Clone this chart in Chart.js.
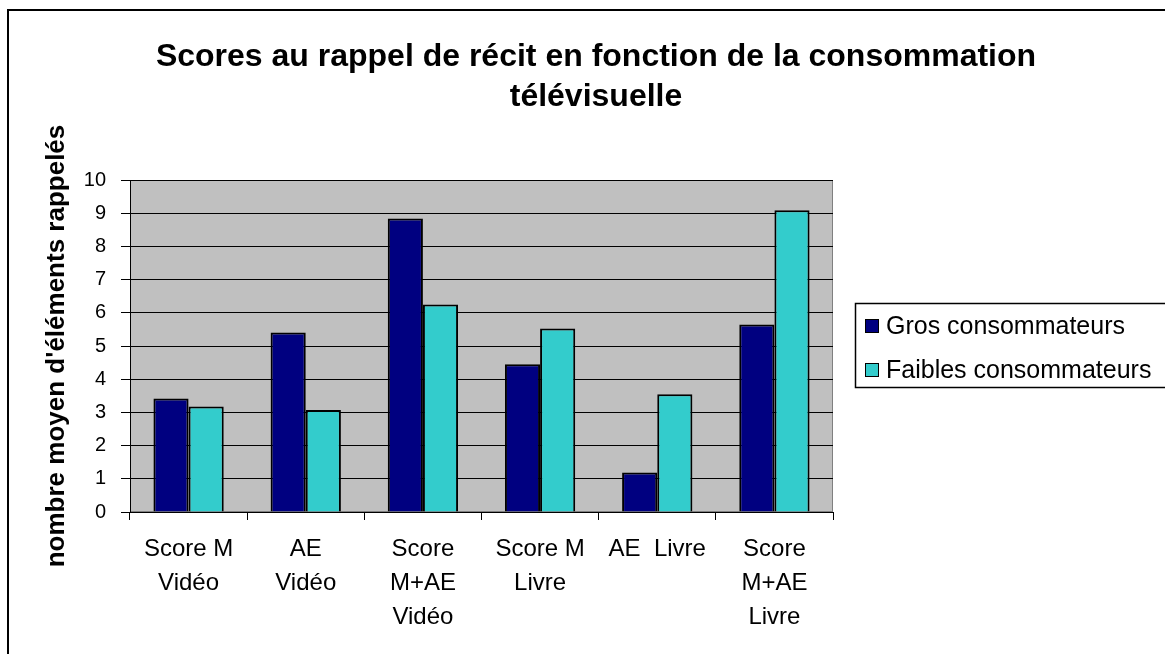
<!DOCTYPE html>
<html>
<head>
<meta charset="utf-8">
<script src="https://cdn.jsdelivr.net/npm/chart.js@4.4.1/dist/chart.umd.min.js"></script>
<style>
  html, body { margin: 0; padding: 0; background: #fff; }
  #chart { display: block; }
</style>
</head>
<body>
<canvas id="chart" width="1165" height="654"></canvas>
<script>
// Data
const categories = [
  ['Score M', 'Vidéo'],
  ['AE', 'Vidéo'],
  ['Score', 'M+AE', 'Vidéo'],
  ['Score M', 'Livre'],
  ['AE  Livre'],
  ['Score', 'M+AE', 'Livre']
];
const grosValues = [3.42, 5.41, 8.84, 4.45, 1.19, 5.65];
const faiblesValues = [3.18, 3.07, 6.25, 5.53, 3.55, 9.09];
const seriesLabels = ['Gros consommateurs', 'Faibles consommateurs'];
const titleLines = ['Scores au rappel de récit en fonction de la consommation', 'télévisuelle'];
const yAxisTitle = "nombre moyen d'éléments rappelés";

const FONT = "'Liberation Sans', Arial, sans-serif";

// plot background, outer frame, title and boxed legend
const excelLook = {
  id: 'excelLook',
  beforeDraw(chart) {
    const { ctx, chartArea: a } = chart;
    ctx.save();
    ctx.fillStyle = '#C0C0C0';
    ctx.fillRect(a.left, a.top, a.right - a.left, a.bottom - a.top);
    ctx.strokeStyle = '#808080';
    ctx.lineWidth = 1;
    ctx.strokeRect(a.left + 0.5, a.top + 0.5, a.right - a.left - 1, a.bottom - a.top - 1);
    ctx.restore();
  },
  afterDraw(chart) {
    const { ctx } = chart;
    ctx.save();
    // outer frame
    ctx.strokeStyle = '#000';
    ctx.lineWidth = 2;
    ctx.strokeRect(8, 10, 1300, 800);

    // title
    ctx.fillStyle = '#000';
    ctx.font = 'bold 32px ' + FONT;
    ctx.textAlign = 'center';
    ctx.textBaseline = 'middle';
    ctx.fillText(titleLines[0], 596, 57);
    ctx.fillText(titleLines[1], 596, 97);

    // legend
    ctx.fillStyle = '#fff';
    ctx.fillRect(855, 303, 400, 84);
    ctx.strokeStyle = '#000';
    ctx.lineWidth = 1.5;
    ctx.strokeRect(855.5, 303.5, 400, 84);
    ctx.font = '25px ' + FONT;
    ctx.textAlign = 'left';
    chart.data.datasets.forEach((ds, i) => {
      const y = 326 + i * 44;
      ctx.fillStyle = ds.backgroundColor;
      ctx.fillRect(865, y - 7, 14, 14);
      ctx.lineWidth = 1;
      ctx.strokeRect(865.5, y - 6.5, 13, 13);
      ctx.fillStyle = '#000';
      ctx.fillText(ds.label, 886, y + 1);
    });
    ctx.restore();
  }
};

const ctx = document.getElementById('chart').getContext('2d');
new Chart(ctx, {
  type: 'bar',
  data: {
    labels: categories,
    datasets: [
      {
        label: seriesLabels[0],
        data: grosValues,
        backgroundColor: '#000080',
        borderColor: '#000',
        borderWidth: 2
      },
      {
        label: seriesLabels[1],
        data: faiblesValues,
        backgroundColor: '#33CCCC',
        borderColor: '#000',
        borderWidth: 2
      }
    ]
  },
  options: {
    responsive: false,
    animation: false,
    devicePixelRatio: 1,
    layout: { padding: { top: 180, right: 332, bottom: 0, left: 0 } },
    datasets: { bar: { categoryPercentage: 0.6, barPercentage: 1.0 } },
    plugins: {
      legend: { display: false },
      title: { display: false },
      tooltip: { enabled: false }
    },
    scales: {
      x: {
        afterFit(scale) { scale.height = 142; },
        grid: { drawOnChartArea: false, drawTicks: true, tickLength: 8, color: '#000' },
        border: { color: '#000', width: 1 },
        ticks: {
          color: '#000',
          autoSkip: false,
          maxRotation: 0,
          padding: 12,
          font: { family: FONT, size: 24, lineHeight: 1.42 }
        }
      },
      y: {
        min: 0,
        max: 10,
        afterFit(scale) { scale.width = 130; },
        grid: { color: '#000', lineWidth: 1, drawTicks: true, tickLength: 9 },
        border: { color: '#000', width: 1 },
        ticks: {
          stepSize: 1,
          color: '#000',
          padding: 15,
          font: { family: FONT, size: 20 }
        },
        title: {
          display: true,
          text: yAxisTitle,
          color: '#000',
          padding: { top: 41, bottom: 0 },
          font: { family: FONT, size: 26, weight: 'bold', lineHeight: 1.2 }
        }
      }
    }
  },
  plugins: [excelLook]
});
</script>
</body>
</html>
